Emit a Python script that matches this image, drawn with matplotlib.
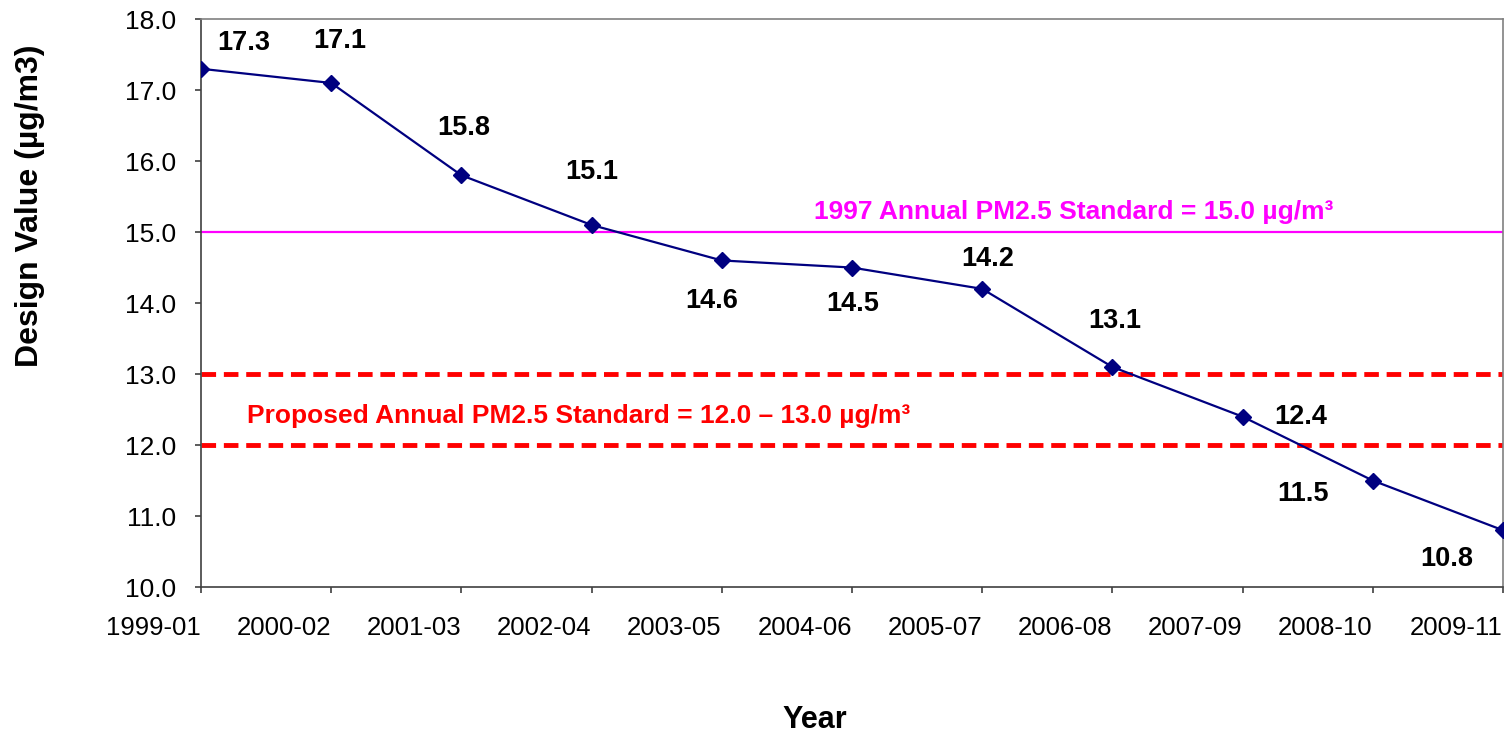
import matplotlib
matplotlib.use('Agg')
import matplotlib.pyplot as plt
import matplotlib.transforms as mtransforms

plt.rcParams['font.family'] = ['Liberation Sans', 'DejaVu Sans']

years = ['1999-01', '2000-02', '2001-03', '2002-04', '2003-05', '2004-06',
         '2005-07', '2006-08', '2007-09', '2008-10', '2009-11']
design_values = [17.3, 17.1, 15.8, 15.1, 14.6, 14.5, 14.2, 13.1, 12.4, 11.5, 10.8]
old_standard = 15.0
proposed_low = 12.0
proposed_high = 13.0

# label offsets in pixels from each point
offsets = [(43, 26), (9, 42), (2, 47), (0, 53), (-10, -41), (1, -36),
           (6, 30), (2, 46), (58, 0), (-70, -13), (-56, -29)]

fig = plt.figure(figsize=(15.04, 7.36), dpi=100)
ax = fig.add_axes([0.1336, 0.2024, 0.8657, 0.7717])

x = list(range(len(years)))
ax.axhline(old_standard, color='#ff00ff', lw=1.6, zorder=1)
ax.axhline(proposed_high, color='#ff0000', lw=3.5, ls=(0, (3, 1.6)), zorder=1)
ax.axhline(proposed_low, color='#ff0000', lw=3.5, ls=(0, (3, 1.6)), zorder=1)
ax.plot(x, design_values, color='#000080', lw=1.6, marker='D', markersize=8.5, zorder=3)

for xi, v, (dx, dy) in zip(x, design_values, offsets):
    ax.annotate('%.1f' % v, (xi, v), xytext=(dx, dy), textcoords='offset pixels',
                ha='center', va='center', fontsize=19.5, fontweight='bold')

ax.text(6.70, 15.28, '1997 Annual PM2.5 Standard = 15.0 µg/m³', color='#ff00ff',
        fontsize=19, fontweight='bold', ha='center', va='center')
ax.text(2.90, 12.41, 'Proposed Annual PM2.5 Standard = 12.0 – 13.0 µg/m³', color='#ff0000',
        fontsize=19, fontweight='bold', ha='center', va='center')

ax.set_xlim(0, 10)
ax.set_ylim(10, 18)
ax.set_xticks(x)
ax.set_xticklabels(years, ha='right')
shift = mtransforms.ScaledTranslation(-3 / 100, 0, fig.dpi_scale_trans)
for lab in ax.get_xticklabels():
    lab.set_transform(lab.get_transform() + shift)
ax.set_yticks([10, 11, 12, 13, 14, 15, 16, 17, 18])
ax.set_yticklabels(['%.1f' % t for t in range(10, 19)])
ax.tick_params(axis='both', direction='out', length=4.5, width=1.2, color='#404040')
ax.tick_params(axis='x', labelsize=18.5, pad=16)
ax.tick_params(axis='y', labelsize=19, pad=13.5)
for s in ax.spines.values():
    s.set_color('#808080')
    s.set_linewidth(1.2)
ax.spines['left'].set_color('#404040')
ax.spines['bottom'].set_color('#404040')

ax.set_ylabel('Design Value (µg/m3)', fontsize=23, fontweight='bold', va='center')
ax.yaxis.set_label_coords(-0.131, 0.672)
ax.set_xlabel('Year', fontsize=22, fontweight='bold', va='center')
ax.xaxis.set_label_coords(0.4716, -0.234)

plt.savefig('out.png', dpi=100)
